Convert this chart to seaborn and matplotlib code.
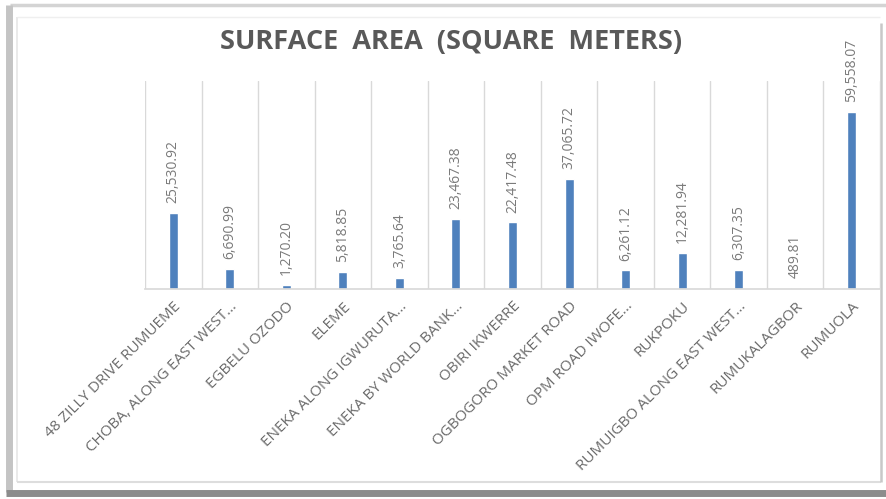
import numpy as np
import pandas as pd
import matplotlib
matplotlib.use("Agg")
import matplotlib.pyplot as plt
from matplotlib.lines import Line2D
import seaborn as sns

# data
locations = ["48 ZILLY DRIVE RUMUEME", "CHOBA, ALONG EAST WEST\u2026", "EGBELU OZODO",
             "ELEME", "ENEKA ALONG IGWURUTA\u2026", "ENEKA BY WORLD BANK\u2026",
             "OBIRI IKWERRE", "OGBOGORO MARKET ROAD", "OPM ROAD IWOFE\u2026",
             "RUKPOKU", "RUMUIGBO ALONG EAST WEST\u2026", "RUMUKALAGBOR", "RUMUOLA"]
areas = [25530.92, 6690.99, 1270.20, 5818.85, 3765.64, 23467.38,
         22417.48, 37065.72, 6261.12, 12281.94, 6307.35, 489.81, 59558.07]

df = pd.DataFrame({"location": locations, "area": areas})

sns.set_theme(style="white")
plt.rcParams['font.family'] = ['Open Sans', 'DejaVu Sans']

W, H = 886, 499
fig = plt.figure(figsize=(W / 100, H / 100), dpi=100)
ax = fig.add_axes([0.1637, 0.4208, 0.8295, 0.4169])

sns.barplot(data=df, x="location", y="area", color="#4f81bd", width=0.16,
            saturation=1, ax=ax)

ax.set_ylim(0, 70000)
ax.set_xlim(-0.5, len(locations) - 0.5)
ax.set_yticks([])
ax.set_xlabel("")
ax.set_ylabel("")

# vertical gridlines between categories
ax.set_xticks(np.arange(-0.5, len(locations), 1), minor=True)
ax.grid(True, which="minor", axis="x", color="#d9d9d9", lw=1)
ax.tick_params(axis="x", which="both", length=0)

for s in ["top", "right", "left"]:
    ax.spines[s].set_visible(False)
ax.spines["bottom"].set_color("#d9d9d9")

ax.set_xticks(range(len(locations)))
ax.set_xticklabels(locations, rotation=45, ha="right", rotation_mode="anchor",
                   fontsize=11, color="#6b6b6b")
ax.tick_params(axis="x", pad=7)

# value labels
for i, v in enumerate(areas):
    ax.text(i, v + 3300, f"{v:,.2f}", rotation=90, ha="center", va="bottom",
            fontsize=10, color="#7a7a7a")

fig.text(0.509, 0.916, "SURFACE  AREA  (SQUARE  METERS)", ha="center", va="center",
         fontsize=19.5, fontweight="bold", color="#595959")


# chart frame with shadow (pixel coords)
def pline(xs, ys, color, lw):
    fig.add_artist(Line2D([x / W for x in xs], [1 - y / H for y in ys],
                          transform=fig.transFigure, color=color, lw=lw,
                          solid_capstyle="butt", zorder=0))


pline([10, 890], [5, 5], "#d4d4d4", 2.5)
pline([9, 9], [5, 492], "#c4c4c4", 5)
pline([6, 890], [493, 493], "#8c8c8c", 5)
pline([17, 17], [17, 482], "#e6e6e6", 1.2)
pline([17, 880], [17, 17], "#efefef", 1.0)
pline([17, 881], [482, 482], "#dddddd", 1.5)
pline([881, 881], [23, 482], "#c8c8c8", 1.8)

fig.savefig("out.png", dpi=100)
